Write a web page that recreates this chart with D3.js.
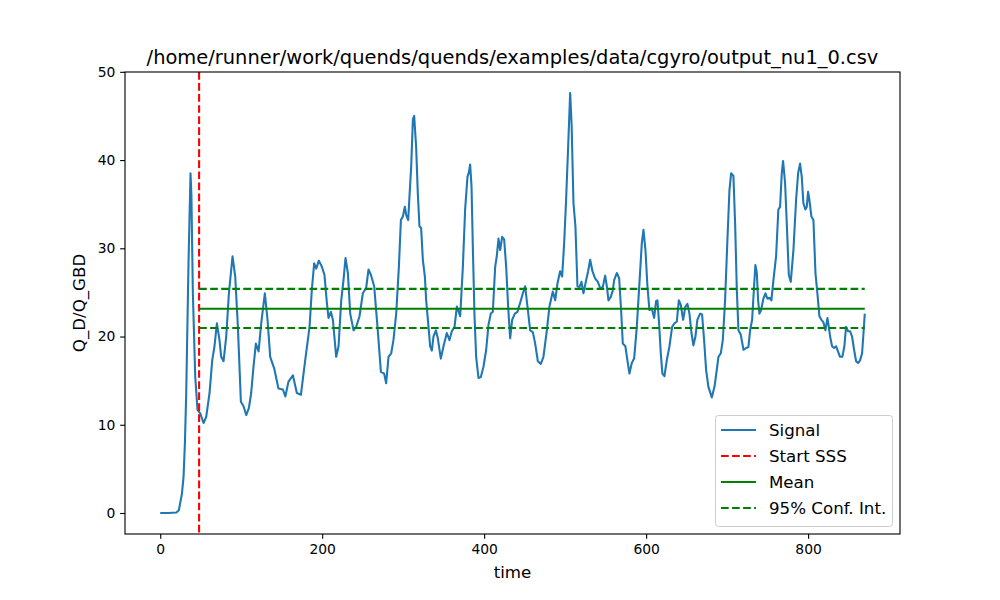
<!DOCTYPE html>
<html>
<head>
<meta charset="utf-8">
<script src="https://cdn.jsdelivr.net/npm/d3@7"></script>
<style>
  body { margin: 0; background: #fff; }
  svg { display: block; font-family: "DejaVu Sans", sans-serif; }
</style>
</head>
<body>
<svg id="chart" width="1000" height="600"></svg>
<script>
const titleText = "/home/runner/work/quends/quends/examples/data/cgyro/output_nu1_0.csv";
const xLabel = "time";
const yLabel = "Q_D/Q_GBD";
const xTicks = [0, 200, 400, 600, 800];
const yTicks = [0, 10, 20, 30, 40, 50];

const time = [0,10,20,23,26.8,28.8,30.5,32.1,35,37.4,38.5,40.3,43.2,46,49.4,53.5,56.8,60.9,64.2,67,70,73.2,75.3,78.2,81.5,84.8,89.3,92.6,95.9,99.6,102.9,106.2,109.5,112.3,115.2,118.1,121.4,124.7,129.2,132.5,135.8,140.7,146,151.5,154.5,158.4,163.8,168.7,173.7,179,184.4,187.2,190.1,192.6,195.9,199.6,202.8,205.8,207.8,210.7,213.2,217.3,220.2,223.5,226.3,228.8,231.7,234.6,238.7,242,246.1,250.2,254.3,257.2,260.1,264.2,268.3,272.5,276.5,279,281.9,285.2,288,291.4,294.7,297.2,299.6,302.1,303.7,306.2,307.8,309.9,312,313.6,316,318.1,320.1,322.2,324.3,326.8,328.4,331.3,333.3,335.4,337.4,340.4,342.8,346.5,349.8,353.9,357.2,360.1,363.4,366.3,370.4,373.7,376.5,379.4,381.1,382.7,384.4,386,388,390.1,393,395.9,399.2,402.5,405.3,408.2,410.7,413.6,415.6,417.7,419.8,422.2,424.7,427.2,429.6,432.1,434.6,437.9,441.1,444.4,447.8,450.6,453.5,456.8,460.1,463,466.3,470,473.2,477.4,480.6,484.8,487.7,490.5,493.8,496.3,498.8,501.2,503.5,506.2,508,510.3,512.7,515.2,517.7,520.2,522.6,526,528.4,530.9,533.7,537,540.4,543.2,546.5,549.4,551.5,553.5,556.4,558.8,560.5,563.8,566.7,569.1,571.2,574.4,576.9,579.4,582.3,585.2,588.5,591.7,594.7,596.7,599.2,601.6,604.1,607,609.9,612.3,614,616,618.1,620.1,622.6,625.5,628.8,632.1,635,637.9,640.4,642.8,645.7,648.5,651,653.5,656,658.4,660.9,663.3,666.7,669.1,671.6,674.1,676.9,681.1,684.4,687.2,689.3,692.2,694.7,697.5,700.4,702.9,705,707.8,709.9,712,714,716.9,720.2,723.5,726.3,728.4,730.9,733.3,734.9,736.7,738.3,739.9,742,744.8,747.3,749.8,752.3,754.7,757.2,760.5,763.3,765.4,767.5,769.1,771.6,773.7,776.2,778.6,781.9,785.2,787.7,790.1,792.2,794.2,796.7,798.4,800,801.6,804.1,806.6,809.1,811.5,814,816.5,819,821.4,823.9,825.6,827.2,829.6,832.1,834.6,837,839.5,842.3,844.8,846.9,849.4,851.9,854.3,856.8,859.3,861.7,864.2,866.7,868.5,870];

const signal = [0,0,0.05,0.3,2.2,4.1,8,13.6,28.7,38.5,36,24.9,15.5,11.7,11.3,10.2,10.9,13.6,17.3,18.9,21.5,19.6,17.7,17.2,20,24.9,29.1,26.8,21.1,12.6,12.1,11.1,11.9,13.6,16.6,19.2,18.3,21.5,24.9,21.9,17.7,16.4,14.1,14.0,13.2,14.9,15.6,13.6,13.4,17.3,21.1,25.3,28.3,27.7,28.6,27.9,27,23.8,22.1,22.8,21.9,17.7,18.9,24.1,26.4,28.9,27.2,22.6,20.7,21.1,22.3,24.9,25.5,27.6,27,25.7,21.1,16,15.8,14.7,17.7,18.1,19.6,22.6,27.9,33.2,33.6,34.7,33.8,33.2,35.9,39.3,44.6,45.0,41.5,36.2,32.5,32.3,28.7,26.8,24.1,21.1,18.9,18.4,20,20.7,19.8,17.5,18.9,20.4,19.6,20.6,21.1,23.4,22.3,27.9,34.4,38.1,38.6,39.5,37,30.2,22.6,17.7,15.3,15.4,16.6,18.5,21.3,22.6,22.8,27.9,29.1,31.1,29.8,31.3,31,27.9,23.4,19.8,21.9,22.6,22.8,23.8,24.9,25.7,23.4,20.7,20.5,19.2,17.2,16.9,17.7,20.7,23.4,25.1,24.1,26,27.4,26.8,30.6,35.5,41,47.6,44,35.1,32.5,25.7,25.6,26.2,24.9,26.4,27.4,28.7,27.4,26.6,26.2,25.5,25.6,26.9,25.7,24.1,24.5,25.2,26.4,27.2,26.6,23,19.2,18.9,17.3,15.8,17,17.5,21.1,26,30.6,32.1,29.8,25.7,23,23.2,22.1,24,24.1,21.5,18.1,15.8,15.5,17.3,18.9,21.1,21.5,21.7,24.1,23.6,21.9,23.4,23.7,22.6,20.4,19,20,21.9,22.6,22.5,19.6,16.2,14.3,13.1,14.3,16.2,17.7,18.1,19.6,24.1,31,36.6,38.5,38.2,32.8,25.3,20.7,20.2,18.5,18.7,18.8,20.7,21.9,25.7,28.1,27.2,24.1,22.6,23,24.3,24.9,24.3,24.4,24.1,26.4,29.1,34.4,34.7,38.5,39.9,37.4,32.8,27,26.2,29.8,35.5,38.5,39.6,38.1,35.1,34.4,34.7,36.4,35.5,33.6,33.2,27.2,24.9,22.3,21.9,21.6,20.7,22.1,21.1,20,18.9,18.7,18.9,18.3,17.7,17.7,18.9,21.1,20.6,20.6,20,18.5,17.2,17,17.3,18.1,20.5,22.6];

const startSSS = 48;
const meanValue = 23.15;
const ciLower = 20.97;
const ciUpper = 25.4;
const tEnd = 870;

const legendLabels = ["Signal", "Start SSS", "Mean", "95% Conf. Int."];
const legendColors = ["#1f77b4", "red", "green", "green"];
const legendDashed = [false, true, false, true];

const svg = d3.select("#chart");
const L = 125, R = 900, T = 72, B = 534;
const PT = 100 / 72;

const x = d3.scaleLinear().domain([-43.5, 913.5]).range([L, R]);
const y = d3.scaleLinear().domain([-2.38, 49.98]).range([B, T]);

const lw = 1.5 * PT;
const dash = `${3.7 * lw},${1.6 * lw}`;

svg.append("defs").append("clipPath").attr("id", "clip")
  .append("rect").attr("x", L).attr("y", T).attr("width", R - L).attr("height", B - T);

const plot = svg.append("g").attr("clip-path", "url(#clip)");

const pts = time.map((t, i) => [t, signal[i]]);
const line = d3.line().x(d => x(d[0])).y(d => y(d[1]));

plot.append("path").datum(pts)
  .attr("d", line)
  .attr("fill", "none")
  .attr("stroke", "#1f77b4")
  .attr("stroke-width", lw)
  .attr("stroke-linejoin", "round");

plot.append("line")
  .attr("x1", x(startSSS)).attr("x2", x(startSSS))
  .attr("y1", T).attr("y2", B)
  .attr("stroke", "red").attr("stroke-width", lw)
  .attr("stroke-dasharray", dash);

plot.append("line")
  .attr("x1", x(startSSS)).attr("x2", x(tEnd))
  .attr("y1", y(meanValue)).attr("y2", y(meanValue))
  .attr("stroke", "green").attr("stroke-width", lw);

[ciLower, ciUpper].forEach(v => {
  plot.append("line")
    .attr("x1", x(startSSS)).attr("x2", x(tEnd))
    .attr("y1", y(v)).attr("y2", y(v))
    .attr("stroke", "green").attr("stroke-width", lw)
    .attr("stroke-dasharray", dash);
});

const tickLen = 3.5 * PT;
const xAxis = d3.axisBottom(x).tickValues(xTicks).tickSize(tickLen).tickPadding(3.5 * PT).tickFormat(d3.format("d"));
const yAxis = d3.axisLeft(y).tickValues(yTicks).tickSize(tickLen).tickPadding(3.5 * PT).tickFormat(d3.format("d"));

const gx = svg.append("g").attr("transform", `translate(0,${B})`).call(xAxis);
const gy = svg.append("g").attr("transform", `translate(${L},0)`).call(yAxis);
[gx, gy].forEach(g => {
  g.select(".domain").remove();
  g.selectAll(".tick line").attr("stroke", "#000").attr("stroke-width", 0.8 * PT);
  g.selectAll(".tick text").attr("fill", "#000")
    .style("font-family", "'DejaVu Sans', sans-serif").style("font-size", (10 * PT) + "px");
});

svg.append("rect").attr("x", L).attr("y", T).attr("width", R - L).attr("height", B - T)
  .attr("fill", "none").attr("stroke", "#000").attr("stroke-width", 0.8 * PT);

svg.append("text").attr("x", (L + R) / 2).attr("y", T - 6 * PT)
  .attr("text-anchor", "middle").style("font-size", (14 * PT) + "px").text(titleText);
svg.append("text").attr("x", (L + R) / 2).attr("y", 578)
  .attr("text-anchor", "middle").style("font-size", (12 * PT) + "px").text(xLabel);
svg.append("text").attr("transform", `translate(85,${(T + B) / 2}) rotate(-90)`)
  .attr("text-anchor", "middle").style("font-size", (12 * PT) + "px").text(yLabel);

const lg = svg.append("g");
lg.append("rect").attr("x", 715.5).attr("y", 415.5).attr("width", 177).attr("height", 111)
  .attr("rx", 3).attr("fill", "#fff").attr("fill-opacity", 0.8)
  .attr("stroke", "#cccccc").attr("stroke-width", 1);
legendLabels.forEach((lab, i) => {
  const cy = 430 + i * 26;
  lg.append("line").attr("x1", 721).attr("x2", 756).attr("y1", cy).attr("y2", cy)
    .attr("stroke", legendColors[i]).attr("stroke-width", lw)
    .attr("stroke-dasharray", legendDashed[i] ? dash : null);
  lg.append("text").attr("x", 769).attr("y", cy + 6)
    .style("font-size", (12 * PT) + "px").text(lab);
});
</script>
</body>
</html>
